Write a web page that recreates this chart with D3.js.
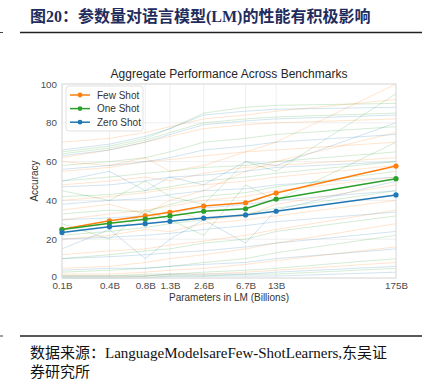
<!DOCTYPE html>
<html>
<head>
<meta charset="utf-8">
<script src="https://cdn.jsdelivr.net/npm/d3@7"></script>
<style>
  body { margin: 0; background: #fff; }
  svg { display: block; }
</style>
</head>
<body>
<div id="chart"></div>
<script>
// Model sizes (billions of params) and their tick labels
const params = [0.125, 0.35, 0.76, 1.3, 2.7, 6.7, 13, 175];
const paramLabels = ['0.1B', '0.4B', '0.8B', '1.3B', '2.6B', '6.7B', '13B', '175B'];
const yTicks = [0, 20, 40, 60, 80, 100];

// Aggregate accuracy
const fewShot = [25.1, 29.5, 32.0, 33.9, 37.1, 38.8, 43.8, 57.7];
const oneShot = [25.0, 28.2, 30.3, 32.0, 34.4, 35.7, 40.7, 51.2];
const zeroShot = [23.5, 26.4, 28.0, 29.2, 30.9, 32.5, 34.4, 42.8];

// Individual benchmarks (faint background lines)
const fewShotTasks = [
  [62, 66, 70, 73, 77, 79, 80, 82],
  [55, 57, 60, 61, 63, 65, 66, 70],
  [48, 50, 52, 50, 54, 57, 58, 62],
  [40, 42, 44, 46, 48, 50, 52, 58],
  [30, 33, 35, 37, 40, 42, 45, 52],
  [20, 22, 25, 24, 28, 30, 32, 40],
  [12, 14, 15, 17, 19, 22, 25, 35],
  [5, 6, 8, 10, 12, 15, 18, 28],
  [2, 2, 3, 4, 5, 7, 9, 16],
  [1, 1, 1, 2, 2, 3, 4, 8],
  [70, 72, 75, 78, 82, 84, 86, 92],
  [35, 38, 33, 40, 45, 55, 60, 75],
  [60, 58, 62, 55, 58, 65, 70, 100],
  [25, 28, 30, 35, 30, 32, 38, 48]
];
const oneShotTasks = [
  [64, 67, 71, 75, 80, 82, 83, 85],
  [58, 60, 62, 65, 70, 72, 74, 78],
  [50, 52, 54, 55, 57, 58, 60, 65],
  [42, 43, 45, 47, 50, 52, 54, 60],
  [33, 35, 34, 38, 42, 44, 47, 55],
  [22, 24, 26, 28, 30, 33, 36, 45],
  [10, 12, 14, 15, 18, 20, 24, 32],
  [3, 4, 5, 6, 8, 10, 13, 22],
  [1, 1, 2, 2, 3, 4, 5, 10],
  [0, 0, 1, 1, 1, 2, 2, 5],
  [65, 68, 72, 77, 85, 88, 89, 90],
  [28, 20, 35, 30, 22, 48, 40, 70],
  [45, 40, 50, 42, 38, 60, 55, 95]
];
const zeroShotTasks = [
  [63, 66, 70, 74, 79, 81, 82, 84],
  [56, 58, 60, 62, 66, 68, 70, 74],
  [47, 48, 50, 52, 53, 55, 57, 60],
  [38, 40, 41, 43, 45, 46, 48, 52],
  [30, 31, 32, 34, 36, 38, 40, 45],
  [20, 21, 22, 23, 25, 27, 29, 34],
  [10, 11, 12, 13, 14, 16, 18, 24],
  [4, 5, 5, 6, 7, 8, 10, 15],
  [1, 1, 1, 2, 2, 2, 3, 6],
  [0, 0, 0, 1, 1, 1, 1, 3],
  [66, 69, 73, 77, 84, 86, 87, 88],
  [15, 25, 10, 20, 30, 18, 35, 50],
  [50, 55, 45, 52, 48, 60, 58, 80]
];

const seriesNames = ['Few Shot', 'One Shot', 'Zero Shot'];
const colors = ['#ff7f0e', '#2ca02c', '#1f77b4'];

const W = 429, H = 379;
const svg = d3.select('#chart').append('svg')
  .attr('width', W).attr('height', H);

// Report header
svg.append('text')
  .attr('x', 30).attr('y', 22)
  .attr('font-family', '"Liberation Serif", "Noto Sans CJK SC", serif')
  .attr('font-weight', 'bold')
  .attr('font-size', 16)
  .attr('fill', '#1f2d5c')
  .text('图20：参数量对语言模型(LM)的性能有积极影响');
svg.append('line').attr('x1', 20).attr('x2', 422).attr('y1', 32.5).attr('y2', 32.5)
  .attr('stroke', '#222').attr('stroke-width', 1.5);
svg.append('line').attr('x1', 0).attr('x2', 3).attr('y1', 32.5).attr('y2', 32.5)
  .attr('stroke', '#444').attr('stroke-width', 1);

// Footer
svg.append('line').attr('x1', 20).attr('x2', 422).attr('y1', 336).attr('y2', 336)
  .attr('stroke', '#222').attr('stroke-width', 1.5);
svg.append('line').attr('x1', 0).attr('x2', 3).attr('y1', 336).attr('y2', 336)
  .attr('stroke', '#444').attr('stroke-width', 1);
const footer = svg.append('text')
  .attr('font-family', '"Liberation Serif", "Noto Sans CJK SC", serif')
  .attr('font-size', 15)
  .attr('fill', '#111');
footer.append('tspan').attr('x', 30).attr('y', 358)
  .text('数据来源：LanguageModelsareFew-ShotLearners,东吴证');
footer.append('tspan').attr('x', 30).attr('y', 377)
  .text('券研究所');

// Chart
const x = d3.scaleLog().domain([params[0], params[params.length - 1]]).range([62, 396]);
const y = d3.scaleLinear().domain([0, 100]).range([278, 84]);

const plot = svg.append('g');

// grid
plot.selectAll('.vgrid').data(params).enter().append('line')
  .attr('x1', d => x(d)).attr('x2', d => x(d))
  .attr('y1', y(0)).attr('y2', y(100))
  .attr('stroke', '#ebebeb').attr('stroke-width', 0.8);
plot.selectAll('.hgrid').data(yTicks).enter().append('line')
  .attr('x1', x.range()[0]).attr('x2', x.range()[1])
  .attr('y1', d => y(d)).attr('y2', d => y(d))
  .attr('stroke', '#ebebeb').attr('stroke-width', 0.8);

const line = d3.line()
  .x((d, i) => x(params[i]))
  .y(d => y(d));

// faint task lines
[fewShotTasks, oneShotTasks, zeroShotTasks].forEach((tasks, k) => {
  plot.selectAll(null).data(tasks).enter().append('path')
    .attr('d', line)
    .attr('fill', 'none')
    .attr('stroke', colors[k])
    .attr('stroke-opacity', 0.2)
    .attr('stroke-width', 1);
});

// frame
plot.append('rect')
  .attr('x', x.range()[0]).attr('y', y(100))
  .attr('width', x.range()[1] - x.range()[0])
  .attr('height', y(0) - y(100))
  .attr('fill', 'none').attr('stroke', '#dcdcdc').attr('stroke-width', 1);

// main series
[fewShot, oneShot, zeroShot].forEach((vals, k) => {
  plot.append('path')
    .attr('d', line(vals))
    .attr('fill', 'none')
    .attr('stroke', colors[k])
    .attr('stroke-width', 1.5);
  plot.selectAll(null).data(vals).enter().append('circle')
    .attr('cx', (d, i) => x(params[i]))
    .attr('cy', d => y(d))
    .attr('r', 2.6)
    .attr('fill', colors[k]);
});

// axes
const tickFont = 'Liberation Sans, Arial, sans-serif';
const xAxis = svg.append('g')
  .attr('transform', `translate(0,${y(0)})`)
  .call(d3.axisBottom(x).tickValues(params).tickFormat((d, i) => paramLabels[i]).tickSize(0).tickPadding(4.5));
const yAxis = svg.append('g')
  .attr('transform', `translate(${x.range()[0]},0)`)
  .call(d3.axisLeft(y).tickValues(yTicks).tickSize(0).tickPadding(5));
[xAxis, yAxis].forEach(a => {
  a.select('.domain').remove();
  a.selectAll('text').attr('font-family', tickFont).attr('font-size', 9.8).attr('fill', '#4d4d4d');
});
// lift the "0" label a touch so it clears "0.1B"
yAxis.selectAll('.tick text').filter(d => d === 0).attr('dy', '0.15em');

// titles
svg.append('text')
  .attr('x', 229).attr('y', 78)
  .attr('text-anchor', 'middle')
  .attr('font-family', tickFont).attr('font-size', 12).attr('fill', '#262626')
  .text('Aggregate Performance Across Benchmarks');
svg.append('text')
  .attr('x', 229).attr('y', 301)
  .attr('text-anchor', 'middle')
  .attr('font-family', tickFont).attr('font-size', 10).attr('fill', '#333')
  .text('Parameters in LM (Billions)');
svg.append('text')
  .attr('transform', `translate(38,${(y(0) + y(100)) / 2}) rotate(-90)`)
  .attr('text-anchor', 'middle')
  .attr('font-family', tickFont).attr('font-size', 10).attr('fill', '#333')
  .text('Accuracy');

// legend
const legend = svg.append('g').attr('transform', 'translate(66,86)');
legend.append('rect')
  .attr('width', 77).attr('height', 45).attr('rx', 3)
  .attr('fill', '#fff').attr('fill-opacity', 0.85)
  .attr('stroke', '#d9d9d9').attr('stroke-width', 0.8);
const items = legend.selectAll('.item').data(seriesNames).enter().append('g')
  .attr('transform', (d, i) => `translate(0,${9 + i * 13.6})`);
items.append('line')
  .attr('x1', 4).attr('x2', 24).attr('y1', 0).attr('y2', 0)
  .attr('stroke', (d, i) => colors[i]).attr('stroke-width', 1.5);
items.append('circle')
  .attr('cx', 14).attr('cy', 0).attr('r', 2.4)
  .attr('fill', (d, i) => colors[i]);
items.append('text')
  .attr('x', 31).attr('y', 3.5)
  .attr('font-family', tickFont).attr('font-size', 10).attr('fill', '#333')
  .text(d => d);
</script>
</body>
</html>
